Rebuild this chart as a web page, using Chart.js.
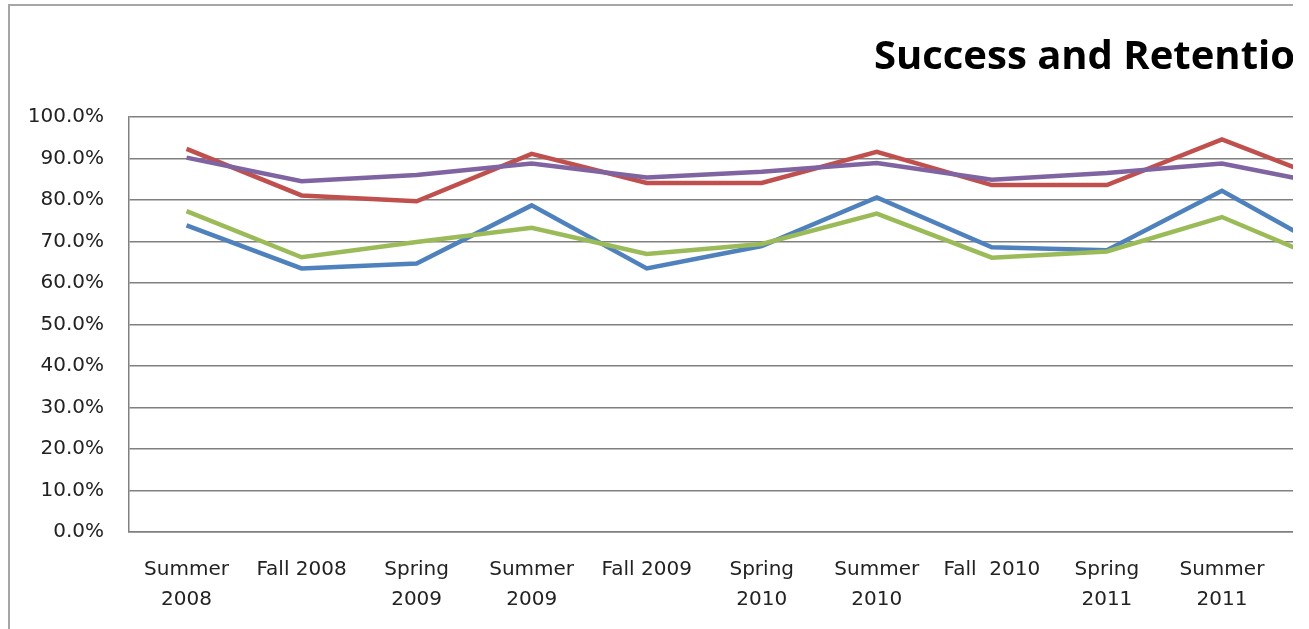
<!DOCTYPE html>
<html>
<head>
<meta charset="utf-8">
<title>Success and Retention</title>
<script src="https://cdn.jsdelivr.net/npm/chart.js"></script>
<style>
  html, body { margin: 0; padding: 0; background: #fff; overflow: hidden; }
  #frame { position: absolute; left: 0; top: 0; width: 1293px; height: 629px; overflow: hidden; background: #fff; }
  #edge { position: absolute; left: 8px; top: 4px; width: 4000px; height: 1000px;
          border-left: 2px solid #a6a6a6; border-top: 2px solid #a6a6a6; }
  #chart { position: absolute; left: 0; top: 0; }
</style>
</head>
<body>
<div id="frame">
  <div id="edge"></div>
  <canvas id="chart"></canvas>
</div>
<script>
// ---------------- data ---------------- //
const terms = [["Summer", "2008"], "Fall 2008", ["Spring", "2009"], ["Summer", "2009"], "Fall 2009",
  ["Spring", "2010"], ["Summer", "2010"], "Fall  2010", ["Spring", "2011"], ["Summer", "2011"], "Fall 2011"];

const blueSeries   = [73.9, 63.5, 64.7, 78.7, 63.5, 68.9, 80.6, 68.6, 67.9, 82.2, 66.8];
const redSeries    = [92.3, 81.1, 79.7, 91.1, 84.1, 84.1, 91.6, 83.6, 83.6, 94.6, 83.9];
const greenSeries  = [77.3, 66.2, 69.9, 73.3, 67.0, 69.4, 76.7, 66.1, 67.6, 75.9, 64.2];
const purpleSeries = [90.2, 84.5, 86.0, 88.8, 85.4, 86.8, 88.9, 84.9, 86.5, 88.8, 83.3];

const yTicks = [0, 10, 20, 30, 40, 50, 60, 70, 80, 90, 100];

const titleText = "Success and Retention Rates";

// ---------------- layout numbers ---------------- //
const plotLeft = 129, plotTop = 117, plotBottom = 532, plotRight = 1394.5;
const canvasH = 629;
const titleLeft = 874, titleVisibleWidth = 418, titleMid = 57.5;
const titleFamily = "'Open Sans'";

// size the title so the visible part spans the same width as the picture
const measure = document.createElement("canvas").getContext("2d");
measure.font = "bold 100px " + titleFamily;
const titleSize = Math.round(100 * titleVisibleWidth / measure.measureText("Success and Retentio").width);
measure.font = "bold " + titleSize + "px " + titleFamily;
const titleWidth = measure.measureText(titleText).width;
const canvasW = Math.round(2 * (titleLeft + titleWidth / 2));

const titleLH = titleSize * 1.2;
const titlePadTop = titleMid - titleLH / 2;
const titlePadBottom = plotTop - titlePadTop - titleLH;

const canvas = document.getElementById("chart");
canvas.width = canvasW;
canvas.height = canvasH;

const tickFont = { family: "'DejaVu Sans', Verdana, sans-serif", size: 20, lineHeight: 1.5 };
const gridGrey = "#808080";

const makeLine = (label, data, color, order) => ({
  label: label,
  data: data,
  borderColor: color,
  backgroundColor: color,
  borderWidth: 4.5,
  pointRadius: 0,
  tension: 0,
  fill: false,
  order: order
});

new Chart(canvas, {
  type: "line",
  data: {
    labels: terms,
    datasets: [
      makeLine("Success 1", blueSeries, "#4f81bd", 3),
      makeLine("Retention 1", redSeries, "#c0504d", 2),
      makeLine("Success 2", greenSeries, "#9bbb59", 1),
      makeLine("Retention 2", purpleSeries, "#8064a2", 0)
    ]
  },
  options: {
    responsive: false,
    animation: false,
    devicePixelRatio: 1,
    layout: { padding: 0 },
    plugins: {
      legend: { display: false },
      tooltip: { enabled: false },
      title: {
        display: true,
        text: titleText,
        color: "#000",
        font: { family: titleFamily, weight: "bold", size: titleSize, lineHeight: 1.2 },
        padding: { top: titlePadTop, bottom: titlePadBottom }
      }
    },
    scales: {
      x: {
        offset: true,
        grid: { display: false, drawTicks: false },
        border: { display: true, color: gridGrey, width: 1.5 },
        ticks: { font: tickFont, color: "#222", padding: 23, maxRotation: 0, autoSkip: false },
        afterFit: (axis) => { axis.height = canvasH - plotBottom; }
      },
      y: {
        min: yTicks[0],
        max: yTicks[yTicks.length - 1],
        afterBuildTicks: (axis) => { axis.ticks = yTicks.map(v => ({ value: v })); },
        grid: { color: gridGrey, lineWidth: 1.5, drawTicks: false },
        border: { display: true, color: gridGrey, width: 1.5 },
        ticks: { font: tickFont, color: "#222", padding: 25, callback: v => v.toFixed(1) + "%" },
        afterFit: (axis) => { axis.width = plotLeft; }
      },
      // empty box on the right so the plot stops where the picture's does
      // while the title stays centred over the whole (cropped) chart
      spacer: {
        type: "linear",
        position: "right",
        grid: { display: false, drawTicks: false },
        border: { display: false },
        ticks: { display: false },
        afterFit: (axis) => { axis.width = canvasW - plotRight; }
      }
    }
  }
});
</script>
</body>
</html>
